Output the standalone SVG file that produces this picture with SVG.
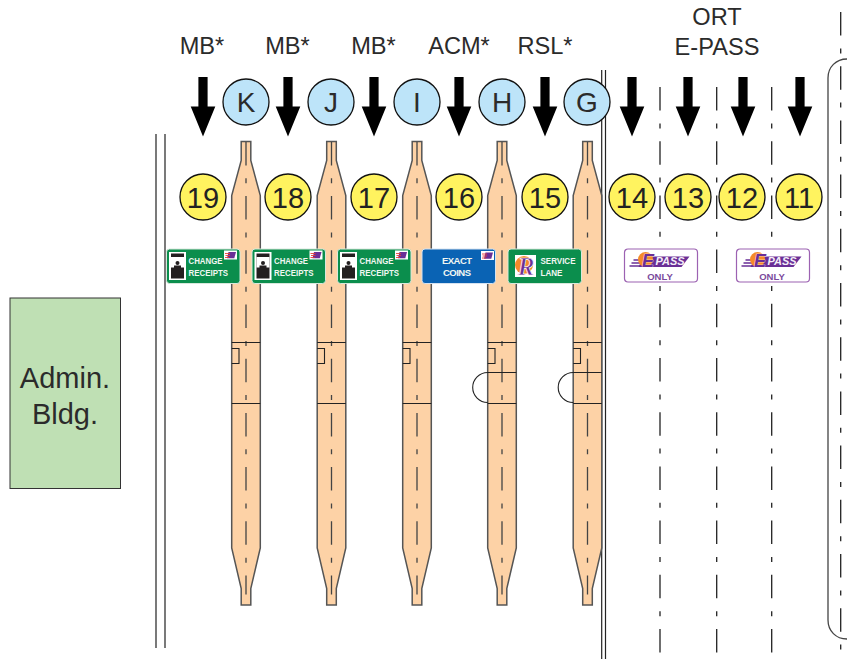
<svg xmlns="http://www.w3.org/2000/svg" xmlns:xlink="http://www.w3.org/1999/xlink" width="847" height="659" viewBox="0 0 847 659">
<style>
text{font-family:"Liberation Sans",Arial,sans-serif;text-anchor:middle}
.lbl{font-size:23.6px;fill:#2b2b2b}
.num{font-size:29px;fill:#222}
.let{font-size:28px;fill:#2b2b2b}
.adm{font-size:29px;fill:#2b2b2b}
.sg{font-size:9.5px;font-weight:bold;fill:#f2f7f2;text-anchor:start}
.lane{fill:none;stroke:#222;stroke-width:1.3;stroke-dasharray:23.5 12.9 5 12.8}
.solid{fill:none;stroke:#222;stroke-width:1.2}
.isl{fill:#fdd2a6;stroke:#555;stroke-width:1.5}
.bar{fill:none;stroke:#222;stroke-width:1.1}
.cl{fill:none;stroke:#444;stroke-width:1.3;stroke-dasharray:23.5 12.9 5 12.8}
.yc{fill:#fff35f;stroke:#111;stroke-width:1.3}
.bc{fill:#bde4f9;stroke:#111;stroke-width:1.3}
.g{fill:#0b8e4d;stroke:#d8e8dc;stroke-width:1}
.b{fill:#0a63b4;stroke:#d5e2f0;stroke-width:1}
.ep{fill:#fff;stroke:#9c62b2;stroke-width:1.2}
.pp{fill:#6a2f96}
.ps{font-size:10px;font-weight:bold;font-style:italic;fill:#f4eef8;text-anchor:start}
.ee{font-size:18px;font-weight:bold;font-style:italic;fill:#6a2f96;stroke:#fff;stroke-width:.6;paint-order:stroke}
.on{font-size:9.5px;font-weight:bold;fill:#7b4a9c}
.rr{font-family:"Liberation Serif",serif;font-size:25px;font-style:italic;font-weight:bold;fill:#6a2f96;stroke:#fff;stroke-width:.7}
</style>
<defs>
<path id="arrow" d="M-4.600-29.500H4.600V0H12.300L0 30-12.300 0H-4.600Z" fill="#000"/>
<g id="island">
<path class="isl" d="M-4.800-231H4.800V-212L14.300-177V175.500L4.800 216V232.500H-4.800V216L-14.300 175.500V-177L-4.800-212Z"/>
<path class="cl" d="M0-230.600V222"/>
<path class="bar" d="M-14.300-30H14.300M-14.300 31H14.300M-14.300-24H-7V-9H-14.300"/>
</g>
<g id="eth">
<rect x="0" y="0" width="13" height="9" fill="#fff"/>
<path d="M4.500 1.500H12L10.300 7.800H3Z" fill="#6a2f96"/>
<path d="M1 3H6M1.500 5H6M1 7H5" stroke="#e8403a" stroke-width=".9"/>
</g>
<g id="booth">
<rect x="0" y="0" width="17" height="28" fill="#fff"/>
<rect x="2" y="1.500" width="13" height="25" fill="#231f20"/>
<rect x="2" y="5" width="13" height="10.500" fill="#fff"/>
<circle cx="8.500" cy="11" r="2" fill="#231f20"/>
<rect x="5" y="13.500" width="7" height="2.500" fill="#231f20"/>
</g>
<g id="epass">
<rect class="ep" x="0" y="0" width="73" height="33" rx="3.500"/>
<path class="pp" d="M19 7.500H65L57 18H14Z"/>
<path d="M9 11H20M7 14H18M5 17H17" stroke="#6a2f96" stroke-width="1.300"/>
<circle cx="21" cy="10.500" r="7.500" fill="#f58a2a"/>
</g>
</defs>

<g id="connectors">
<path class="solid" d="M156 134V648M165 134V648"/>
<path class="solid" d="M601.700 70V659M605.500 70V659"/>
<path class="lane" d="M660 87V653M716.700 87V653M771.700 87V653"/>
<path class="lane" d="M840.700 12V650"/>
<path d="M848 59H847C836 59 828 67 828 78V620C828 631 836 639 847 639H848" fill="none" stroke="#444" stroke-width="1.300"/>
</g>

<g id="island-k"><use xlink:href="#island" href="#island" x="246" y="372.500"/></g>
<g id="island-j"><use xlink:href="#island" href="#island" x="331.500" y="372.500"/></g>
<g id="island-i"><use xlink:href="#island" href="#island" x="417" y="372.500"/></g>
<g id="island-h"><use xlink:href="#island" href="#island" x="502" y="372.500"/><path class="bar" d="M487.700 372.500H516.300M487.700 372.500A15 15 0 0 0 487.700 402.500"/></g>
<g id="island-g"><use xlink:href="#island" href="#island" x="587.500" y="372.500"/><path class="bar" d="M573.200 372.500H601.800M573.200 372.500A15 15 0 0 0 573.200 402.500"/></g>

<g id="labels">
<text class="lbl" x="202" y="54">MB*</text>
<text class="lbl" x="287.500" y="54">MB*</text>
<text class="lbl" x="373.500" y="54">MB*</text>
<text class="lbl" x="459" y="54">ACM*</text>
<text class="lbl" x="545" y="54">RSL*</text>
<text class="lbl" x="717" y="25">ORT</text>
<text class="lbl" x="717" y="55">E-PASS</text>
</g>

<g id="arrows">
<use xlink:href="#arrow" href="#arrow" x="203" y="106.500"/>
<use xlink:href="#arrow" href="#arrow" x="288" y="106.500"/>
<use xlink:href="#arrow" href="#arrow" x="374" y="106.500"/>
<use xlink:href="#arrow" href="#arrow" x="459" y="106.500"/>
<use xlink:href="#arrow" href="#arrow" x="545" y="106.500"/>
<use xlink:href="#arrow" href="#arrow" x="632" y="106.500"/>
<use xlink:href="#arrow" href="#arrow" x="688" y="106.500"/>
<use xlink:href="#arrow" href="#arrow" x="743" y="106.500"/>
<use xlink:href="#arrow" href="#arrow" x="800" y="106.500"/>
</g>

<g id="lane-k"><circle class="bc" cx="246" cy="102" r="23"/><text class="let" x="246" y="112">K</text></g>
<g id="lane-j"><circle class="bc" cx="331" cy="102" r="23"/><text class="let" x="331" y="112">J</text></g>
<g id="lane-i"><circle class="bc" cx="417" cy="102" r="23"/><text class="let" x="417" y="112">I</text></g>
<g id="lane-h"><circle class="bc" cx="502" cy="102" r="23"/><text class="let" x="502" y="112">H</text></g>
<g id="lane-g"><circle class="bc" cx="587" cy="102" r="23"/><text class="let" x="587" y="112">G</text></g>

<g id="lane-19"><circle class="yc" cx="203" cy="197" r="23"/><text class="num" x="203" y="207.500">19</text></g>
<g id="lane-18"><circle class="yc" cx="288" cy="197" r="23"/><text class="num" x="288" y="207.500">18</text></g>
<g id="lane-17"><circle class="yc" cx="374" cy="197" r="23"/><text class="num" x="374" y="207.500">17</text></g>
<g id="lane-16"><circle class="yc" cx="459" cy="197" r="23"/><text class="num" x="459" y="207.500">16</text></g>
<g id="lane-15"><circle class="yc" cx="545" cy="197" r="23"/><text class="num" x="545" y="207.500">15</text></g>
<g id="lane-14"><circle class="yc" cx="632" cy="197" r="23"/><text class="num" x="632" y="207.500">14</text></g>
<g id="lane-13"><circle class="yc" cx="688" cy="197" r="23"/><text class="num" x="688" y="207.500">13</text></g>
<g id="lane-12"><circle class="yc" cx="742" cy="197" r="23"/><text class="num" x="742" y="207.500">12</text></g>
<g id="lane-11"><circle class="yc" cx="799" cy="197" r="23"/><text class="num" x="799" y="207.500">11</text></g>

<g id="sign-19">
<rect class="g" x="166.500" y="249" width="73.500" height="34.500" rx="3"/>
<use xlink:href="#booth" href="#booth" x="169" y="252"/>
<use xlink:href="#eth" href="#eth" x="224" y="250.500"/>
<text class="sg" x="188.500" y="263.500" textLength="34" lengthAdjust="spacingAndGlyphs">CHANGE</text><text class="sg" x="188.500" y="275.500" textLength="39.500" lengthAdjust="spacingAndGlyphs">RECEIPTS</text>
</g>
<g id="sign-18">
<rect class="g" x="252" y="249" width="73.500" height="34.500" rx="3"/>
<use xlink:href="#booth" href="#booth" x="254.500" y="252"/>
<use xlink:href="#eth" href="#eth" x="309.500" y="250.500"/>
<text class="sg" x="274" y="263.500" textLength="34" lengthAdjust="spacingAndGlyphs">CHANGE</text><text class="sg" x="274" y="275.500" textLength="39.500" lengthAdjust="spacingAndGlyphs">RECEIPTS</text>
</g>
<g id="sign-17">
<rect class="g" x="337.500" y="249" width="73.500" height="34.500" rx="3"/>
<use xlink:href="#booth" href="#booth" x="340" y="252"/>
<use xlink:href="#eth" href="#eth" x="395" y="250.500"/>
<text class="sg" x="359.500" y="263.500" textLength="34" lengthAdjust="spacingAndGlyphs">CHANGE</text><text class="sg" x="359.500" y="275.500" textLength="39.500" lengthAdjust="spacingAndGlyphs">RECEIPTS</text>
</g>
<g id="sign-16">
<rect class="b" x="422" y="249" width="73.500" height="34.500" rx="3"/>
<use xlink:href="#eth" href="#eth" x="481" y="251"/>
<text class="sg" x="442" y="263.500" textLength="30" lengthAdjust="spacing">EXACT</text><text class="sg" x="443" y="275.500" textLength="28" lengthAdjust="spacing">COINS</text>
</g>
<g id="sign-15">
<rect class="g" x="508" y="249" width="73.500" height="34.500" rx="3"/>
<rect x="515" y="255" width="21" height="22" fill="#fff"/>
<circle cx="524" cy="265" r="9" fill="#f58a2a"/>
<text class="rr" x="526" y="275">R</text>
<text class="sg" x="540.500" y="263.500" textLength="35" lengthAdjust="spacingAndGlyphs">SERVICE</text><text class="sg" x="540.500" y="275.500" textLength="22" lengthAdjust="spacingAndGlyphs">LANE</text>
</g>
<g id="sign-epass-1">
<use xlink:href="#epass" href="#epass" x="624.500" y="249"/>
<text class="ee" x="648" y="267">E</text>
<text class="ps" x="655.500" y="265" textLength="29" lengthAdjust="spacingAndGlyphs">PASS</text>
<text class="on" x="660" y="280">ONLY</text>
</g>
<g id="sign-epass-2">
<use xlink:href="#epass" href="#epass" x="736.500" y="249"/>
<text class="ee" x="760" y="267">E</text>
<text class="ps" x="767.500" y="265" textLength="29" lengthAdjust="spacingAndGlyphs">PASS</text>
<text class="on" x="772" y="280">ONLY</text>
</g>

<g id="admin">
<rect x="10" y="298" width="110.500" height="190.500" fill="#bfe0b4" stroke="#333" stroke-width="1"/>
<text class="adm" x="65" y="388">Admin.</text>
<text class="adm" x="65" y="424">Bldg.</text>
</g>
</svg>
